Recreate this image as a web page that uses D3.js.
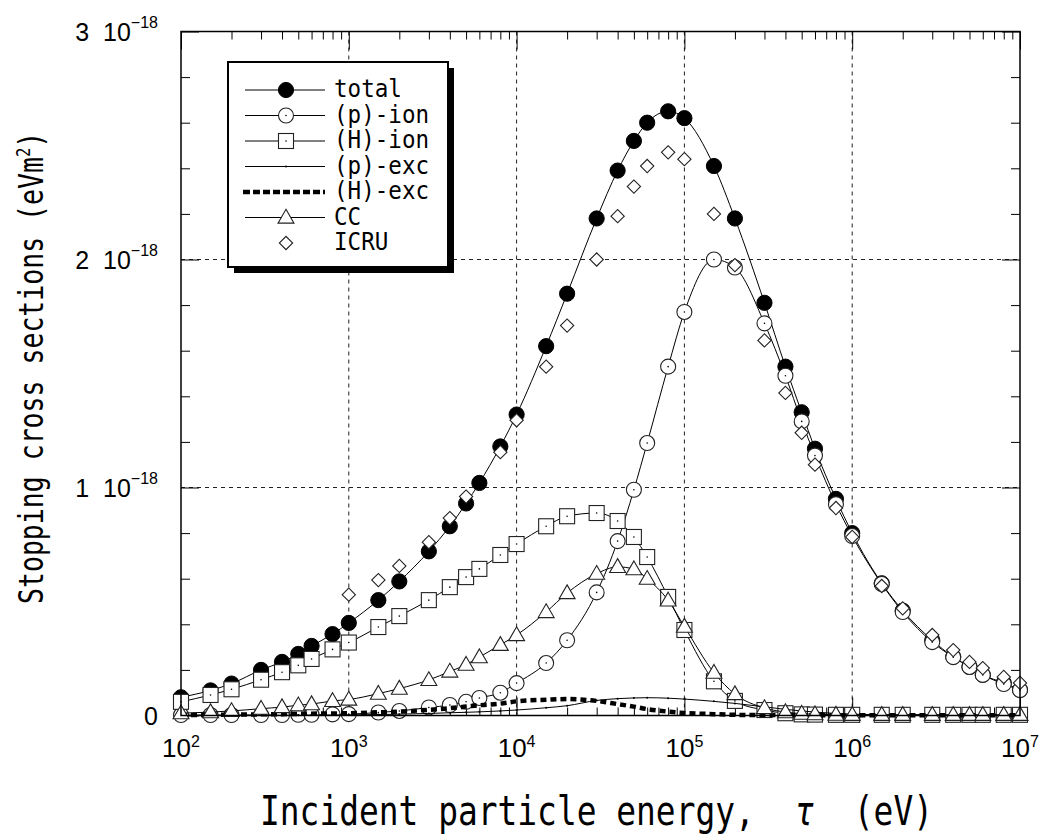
<!DOCTYPE html>
<html>
<head>
<meta charset="utf-8">
<script src="https://cdn.jsdelivr.net/npm/d3@7"></script>
<style>
  body { margin: 0; background: #fff; }
  .axis path { display: none; }
  .axis line { stroke: #000; stroke-width: 1; }
  .grid line { stroke: #222; stroke-width: 1; stroke-dasharray: 4,4; }
  .mono { font-family: "DejaVu Sans Mono", monospace; white-space: pre; }
  .tick-label { font-family: "Liberation Sans", Arial, sans-serif; white-space: pre; }
</style>
</head>
<body>
<div id="chart"></div>
<script>
// energy grid (eV) shared by the calculated curves
var energy = [1e2, 1.5e2, 2e2, 3e2, 4e2, 5e2, 6e2, 8e2,
              1e3, 1.5e3, 2e3, 3e3, 4e3, 5e3, 6e3, 8e3,
              1e4, 1.5e4, 2e4, 3e4, 4e4, 5e4, 6e4, 8e4,
              1e5, 1.5e5, 2e5, 3e5, 4e5, 5e5, 6e5, 8e5,
              1e6, 1.5e6, 2e6, 3e6, 4e6, 5e6, 6e6, 8e6, 1e7];

// stopping cross sections, units of 1e-18 eV m^2
var total = [0.08, 0.11, 0.14, 0.20, 0.235, 0.27, 0.305, 0.357,
             0.406, 0.506, 0.588, 0.72, 0.83, 0.93, 1.02, 1.18,
             1.32, 1.62, 1.85, 2.18, 2.39, 2.52, 2.60, 2.65,
             2.62, 2.41, 2.18, 1.81, 1.53, 1.33, 1.17, 0.95,
             0.80, 0.58, 0.46, 0.33, 0.257, 0.213, 0.178, 0.143, 0.112];
var pIon = [0.002, 0.002, 0.002, 0.002, 0.002, 0.003, 0.003, 0.005,
            0.006, 0.013, 0.02, 0.035, 0.046, 0.06, 0.077, 0.10,
            0.142, 0.23, 0.33, 0.54, 0.765, 0.99, 1.195, 1.53,
            1.77, 2.0, 1.965, 1.72, 1.49, 1.29, 1.14, 0.927,
            0.787, 0.577, 0.454, 0.322, 0.256, 0.213, 0.178, 0.138, 0.112];
var hIon = [0.06, 0.09, 0.115, 0.157, 0.19, 0.22, 0.248, 0.29,
            0.32, 0.388, 0.436, 0.506, 0.563, 0.607, 0.643, 0.704,
            0.752, 0.83, 0.874, 0.888, 0.853, 0.783, 0.695, 0.52,
            0.375, 0.15, 0.064, 0.024, 0.01, 0.005, 0.004, 0.003,
            0.003, 0.003, 0.003, 0.003, 0.003, 0.003, 0.003, 0.003, 0.003];
var pExc = [0.0, 0.0, 0.0, 0.001, 0.001, 0.001, 0.002, 0.002,
            0.003, 0.004, 0.006, 0.009, 0.012, 0.014, 0.016, 0.02,
            0.024, 0.034, 0.043, 0.066, 0.074, 0.077, 0.078, 0.076,
            0.072, 0.062, 0.053, 0.038, 0.027, 0.02, 0.015, 0.009,
            0.006, 0.003, 0.002, 0.001, 0.001, 0.001, 0.001, 0.001, 0.001];
var hExc = [0.002, 0.003, 0.004, 0.005, 0.006, 0.007, 0.008, 0.009,
            0.01, 0.014, 0.017, 0.025, 0.032, 0.039, 0.045, 0.052,
            0.062, 0.069, 0.072, 0.064, 0.05, 0.039, 0.028, 0.017,
            0.011, 0.006, 0.003, 0.002, 0.002, 0.001, 0.001, 0.001,
            0.001, 0.001, 0.001, 0.001, 0.001, 0.001, 0.001, 0.001, 0.001];
var cc = [0.01, 0.015, 0.02, 0.03, 0.037, 0.045, 0.05, 0.064,
          0.07, 0.096, 0.118, 0.156, 0.193, 0.223, 0.256, 0.31,
          0.353, 0.454, 0.537, 0.622, 0.652, 0.642, 0.60, 0.505,
          0.39, 0.188, 0.094, 0.033, 0.015, 0.008, 0.006, 0.004,
          0.003, 0.003, 0.003, 0.003, 0.003, 0.003, 0.003, 0.003, 0.003];

// ICRU reference points
var icruEnergy = [1e3, 1.5e3, 2e3, 3e3, 4e3, 5e3, 8e3,
                  1e4, 1.5e4, 2e4, 3e4, 4e4, 5e4, 6e4, 8e4,
                  1e5, 1.5e5, 2e5, 3e5, 4e5, 5e5, 6e5, 8e5,
                  1e6, 1.5e6, 2e6, 3e6, 4e6, 5e6, 6e6, 8e6, 1e7];
var icru = [0.53, 0.594, 0.656, 0.76, 0.866, 0.96, 1.155,
            1.295, 1.53, 1.71, 2.0, 2.19, 2.32, 2.41, 2.47,
            2.44, 2.20, 1.975, 1.645, 1.415, 1.24, 1.10, 0.91,
            0.783, 0.568, 0.47, 0.353, 0.287, 0.235, 0.208, 0.169, 0.143];

var seriesNames = ["total", "(p)-ion", "(H)-ion", "(p)-exc", "(H)-exc", "CC", "ICRU"];
var xDecades = [1e2, 1e3, 1e4, 1e5, 1e6, 1e7];
var xExponents = ["2", "3", "4", "5", "6", "7"];
var yMajor = [0, 1, 2, 3];
var yMantissa = ["0", "1", "2", "3"];
var yExponent = "\u221218";

var W = 1041, H = 840;
var margin = {top: 31.5, right: 21, bottom: 124.5, left: 181},
    width = W - margin.left - margin.right,
    height = H - margin.top - margin.bottom;

var svg0 = d3.select("#chart")
  .append("svg")
  .attr("width", W)
  .attr("height", H);

svg0.append("rect").attr("width", W).attr("height", H).attr("fill", "#fff");

var svg = svg0.append("g")
  .attr("transform", "translate(" + margin.left + "," + margin.top + ")");

var x = d3.scaleLog().domain([1e2, 1e7]).range([0, width]);
var y = d3.scaleLinear().domain([0, 3]).range([height, 0]);

// minor tick values
var xMinor = [];
xDecades.slice(0, 5).forEach(function(d) {
  for (var k = 2; k <= 9; k++) xMinor.push(d * k);
});
var yMinor = d3.range(0, 3.0001, 0.2).filter(function(v) {
  return Math.abs(v - Math.round(v)) > 1e-6;
});

// grid
var grid = svg.append("g").attr("class", "grid");
grid.selectAll(".gx")
  .data(xDecades.slice(1, 5)).enter()
  .append("line")
  .attr("x1", function(d) { return x(d); })
  .attr("x2", function(d) { return x(d); })
  .attr("y1", 0).attr("y2", height);
grid.selectAll(".gy")
  .data([1, 2]).enter()
  .append("line")
  .attr("x1", 0).attr("x2", width)
  .attr("y1", function(d) { return y(d); })
  .attr("y2", function(d) { return y(d); });

// inward ticks on all four sides
function addAxis(gen, tx, ty) {
  svg.append("g")
    .attr("class", "axis")
    .attr("transform", "translate(" + tx + "," + ty + ")")
    .call(gen);
}
addAxis(d3.axisBottom(x).tickValues(xDecades).tickSize(-18).tickFormat(""), 0, height);
addAxis(d3.axisBottom(x).tickValues(xMinor).tickSize(-8).tickFormat(""), 0, height);
addAxis(d3.axisTop(x).tickValues(xDecades).tickSize(-18).tickFormat(""), 0, 0);
addAxis(d3.axisTop(x).tickValues(xMinor).tickSize(-8).tickFormat(""), 0, 0);
addAxis(d3.axisLeft(y).tickValues(yMajor).tickSize(-18).tickFormat(""), 0, 0);
addAxis(d3.axisLeft(y).tickValues(yMinor).tickSize(-9).tickFormat(""), 0, 0);
addAxis(d3.axisRight(y).tickValues(yMajor).tickSize(-18).tickFormat(""), width, 0);
addAxis(d3.axisRight(y).tickValues(yMinor).tickSize(-9).tickFormat(""), width, 0);

// x tick labels  10^n
var xl = svg.append("g").selectAll("text")
  .data(xDecades).enter()
  .append("text")
  .attr("class", "tick-label")
  .attr("x", function(d) { return x(d); })
  .attr("y", height + 41.5)
  .attr("text-anchor", "middle")
  .style("font-size", "26px");
xl.append("tspan").text("10");
xl.append("tspan")
  .attr("dy", -10)
  .style("font-size", "16px")
  .text(function(d, i) { return xExponents[i]; });

// y tick labels  m 10^-18
var yl = svg.append("g").selectAll("text")
  .data(yMajor).enter()
  .append("text")
  .attr("class", "tick-label")
  .attr("x", -23)
  .attr("y", function(d) { return y(d) + 9.5; })
  .attr("text-anchor", "end")
  .style("font-size", "25px")
  .text(function(d, i) { return d === 0 ? yMantissa[i] : yMantissa[i] + "  10"; });
yl.filter(function(d) { return d !== 0; })
  .append("tspan")
  .attr("dy", -13)
  .style("font-size", "16px")
  .text(yExponent);

// symbols
function marker(g, type, cx, cy) {
  if (type === "fcircle") {
    g.append("circle").attr("cx", cx).attr("cy", cy).attr("r", 7.6)
      .attr("fill", "#000").attr("stroke", "#000");
  } else if (type === "circle") {
    g.append("circle").attr("cx", cx).attr("cy", cy).attr("r", 7.5)
      .attr("fill", "#fff").attr("stroke", "#222").attr("stroke-width", 1.1);
    g.append("circle").attr("cx", cx).attr("cy", cy).attr("r", 0.8).attr("fill", "#000");
  } else if (type === "square") {
    g.append("rect").attr("x", cx - 7.5).attr("y", cy - 7.5)
      .attr("width", 15).attr("height", 15)
      .attr("fill", "#fff").attr("stroke", "#222").attr("stroke-width", 1.1);
    g.append("circle").attr("cx", cx).attr("cy", cy).attr("r", 0.8).attr("fill", "#000");
  } else if (type === "dot") {
    g.append("circle").attr("cx", cx).attr("cy", cy).attr("r", 1).attr("fill", "#000");
  } else if (type === "triangle") {
    g.append("path")
      .attr("d", d3.symbol().type(d3.symbolTriangle).size(110)())
      .attr("transform", "translate(" + cx + "," + (cy + 1) + ")")
      .attr("fill", "#fff").attr("stroke", "#222").attr("stroke-width", 1.1);
  } else if (type === "diamond") {
    g.append("path")
      .attr("d", d3.symbol().type(d3.symbolSquare).size(88)())
      .attr("transform", "translate(" + cx + "," + cy + ") rotate(45)")
      .attr("fill", "#fff").attr("stroke", "#222").attr("stroke-width", 1.1);
  }
}

var series = [
  {name: seriesNames[0], e: energy, v: total, sym: "fcircle", width: 1, dash: null},
  {name: seriesNames[1], e: energy, v: pIon, sym: "circle", width: 1, dash: null},
  {name: seriesNames[2], e: energy, v: hIon, sym: "square", width: 1, dash: null},
  {name: seriesNames[3], e: energy, v: pExc, sym: "dot", width: 1, dash: null},
  {name: seriesNames[4], e: energy, v: hExc, sym: null, width: 4.5, dash: "6,4"},
  {name: seriesNames[5], e: energy, v: cc, sym: "triangle", width: 1, dash: null},
  {name: seriesNames[6], e: icruEnergy, v: icru, sym: "diamond", width: 0, dash: null}
];

var line = d3.line()
  .x(function(d) { return x(d[0]); })
  .y(function(d) { return y(d[1]); })
  .curve(d3.curveMonotoneX);

series.forEach(function(s) {
  var pts = s.e.map(function(e, i) { return [e, s.v[i]]; });
  var g = svg.append("g").attr("class", "series");
  if (s.width > 0) {
    g.append("path")
      .attr("d", line(pts))
      .attr("fill", "none")
      .attr("stroke", "#000")
      .attr("stroke-width", s.width)
      .attr("stroke-dasharray", s.dash);
  }
  if (s.sym) {
    pts.forEach(function(p) { marker(g, s.sym, x(p[0]), y(p[1])); });
  }
});

// frame
svg.append("rect")
  .attr("width", width).attr("height", height)
  .attr("fill", "none").attr("stroke", "#000").attr("stroke-width", 1.5);

// axis titles
svg0.append("text")
  .attr("class", "mono")
  .attr("transform", "translate(260,825) scale(0.802,1)")
  .style("font-size", "41px")
  .html('Incident particle energy,  <tspan font-style="italic">\u03c4</tspan>  (eV)');

var yt = svg0.append("text")
  .attr("class", "mono")
  .attr("transform", "translate(43,604) rotate(-90) scale(0.78,1)")
  .style("font-size", "34px")
  .text("Stopping cross sections (eVm");
yt.append("tspan").attr("dy", -13).style("font-size", "20px").text("2");
yt.append("tspan").attr("dy", 13).text(")");

// legend
var lg = svg0.append("g").attr("transform", "translate(228,62)");
lg.append("rect").attr("x", 6).attr("y", 6).attr("width", 220).attr("height", 205).attr("fill", "#000");
lg.append("rect").attr("width", 220).attr("height", 205)
  .attr("fill", "#fff").attr("stroke", "#000").attr("stroke-width", 2);

series.forEach(function(s, i) {
  var ry = 28 + i * 25.5;
  if (s.width > 0) {
    lg.append("line")
      .attr("x1", s.dash ? 15 : 17).attr("x2", 97)
      .attr("y1", ry).attr("y2", ry)
      .attr("stroke", "#000")
      .attr("stroke-width", s.dash ? 4.5 : 1)
      .attr("stroke-dasharray", s.dash ? "7,3" : null);
  }
  if (s.sym) marker(lg, s.sym, 58, ry);
  lg.append("text")
    .attr("class", "mono")
    .attr("transform", "translate(106," + (ry + 7) + ") scale(0.94,1)")
    .style("font-size", "24px")
    .text(s.name);
});
</script>
</body>
</html>
